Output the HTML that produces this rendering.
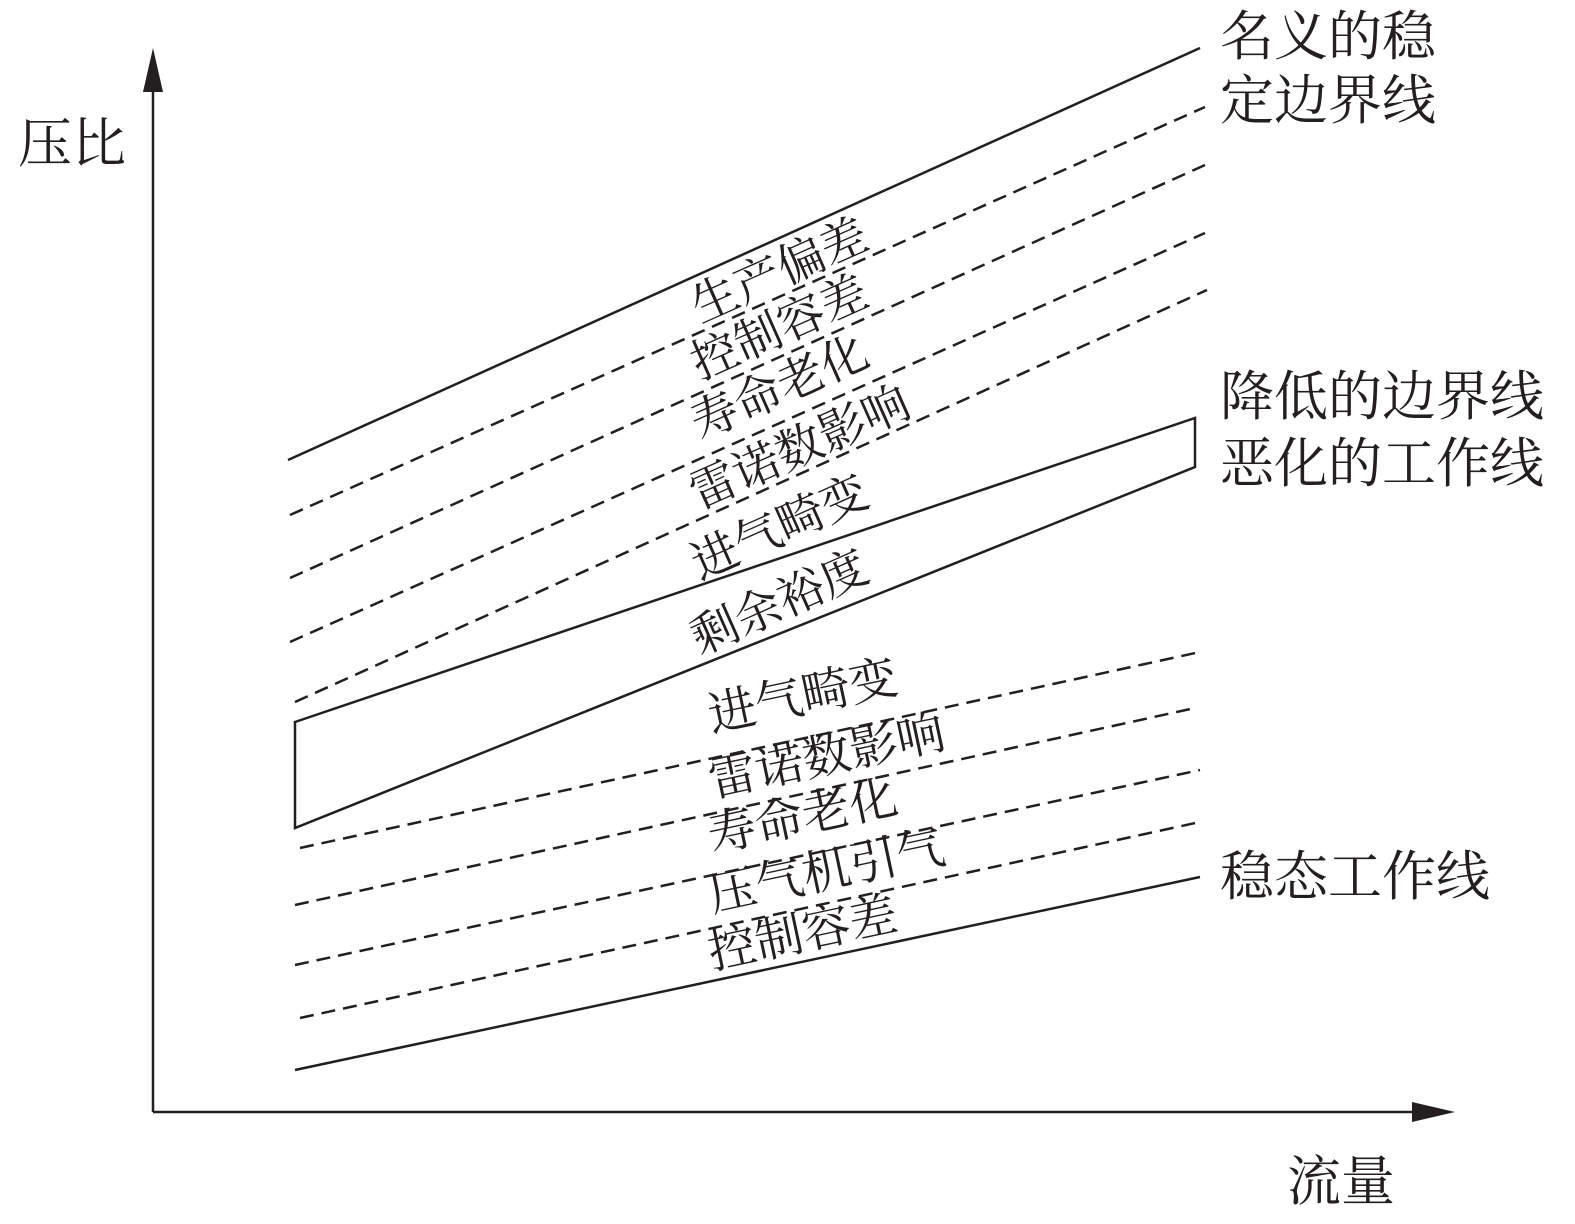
<!DOCTYPE html>
<html><head><meta charset="utf-8">
<style>
html,body{margin:0;padding:0;background:#fff;}
svg{display:block;}
text{font-family:"Liberation Serif","Noto Serif CJK SC",serif;fill:#231f20;}
</style></head>
<body>
<svg width="1575" height="1224" viewBox="0 0 1575 1224" xmlns="http://www.w3.org/2000/svg">
<g stroke="#231f20" stroke-width="2.5" fill="none">
  <line x1="153" y1="1112" x2="153" y2="70"/>
  <line x1="153" y1="1112" x2="1430" y2="1112"/>
  <line x1="288" y1="460" x2="1200" y2="48"/>
  <g stroke-dasharray="14,8">
    <line x1="290" y1="515" x2="1205" y2="107"/>
    <line x1="290" y1="578" x2="1205" y2="165"/>
    <line x1="290" y1="642" x2="1205" y2="233"/>
    <line x1="295" y1="702" x2="1207" y2="290"/>
    <line x1="300" y1="848" x2="1200" y2="652"/>
    <line x1="295" y1="905" x2="1195" y2="708"/>
    <line x1="295" y1="965" x2="1200" y2="770"/>
    <line x1="300" y1="1018" x2="1200" y2="822"/>
  </g>
  <polygon points="295,722 1195,418 1195,467 295,828"/>
  <line x1="295" y1="1070" x2="1200" y2="877"/>
</g>
<polygon points="153,48 143,92 163,92" fill="#231f20"/>
<polygon points="1455,1112 1412,1102 1412,1122" fill="#231f20"/>

<g font-size="47" text-anchor="middle">
  <text transform="translate(786,285) rotate(-24)">生产偏差</text>
  <text transform="translate(786,342) rotate(-24)">控制容差</text>
  <text transform="translate(786,402) rotate(-24)">寿命老化</text>
  <text transform="translate(806,462) rotate(-24)">雷诺数影响</text>
  <text transform="translate(786,542) rotate(-24)">进气畸变</text>
  <text transform="translate(786,617) rotate(-24)">剩余裕度</text>
</g>
<g font-size="48" text-anchor="middle">
  <text transform="translate(806,712) rotate(-12)">进气畸变</text>
  <text transform="translate(830,772) rotate(-12)">雷诺数影响</text>
  <text transform="translate(806,832) rotate(-12)">寿命老化</text>
  <text transform="translate(830,887) rotate(-12)">压气机引气</text>
  <text transform="translate(806,949) rotate(-12)">控制容差</text>
</g>

<g font-size="54">
  <text x="1220" y="55">名义的稳</text>
  <text x="1220" y="119">定边界线</text>
  <text x="1220" y="415">降低的边界线</text>
  <text x="1220" y="482">恶化的工作线</text>
  <text x="1220" y="895">稳态工作线</text>
  <text x="18" y="162">压比</text>
  <text x="1287" y="1200">流量</text>
</g>
</svg>
</body></html>
